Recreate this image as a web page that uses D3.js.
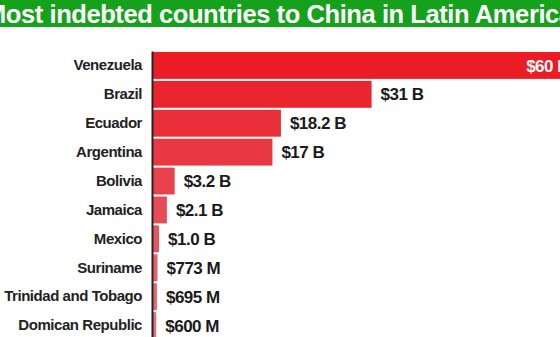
<!DOCTYPE html>
<html>
<head>
<meta charset="utf-8">
<script src="https://cdn.jsdelivr.net/npm/d3@7"></script>
<style>
  html, body { margin: 0; padding: 0; background: #fff; }
  svg { display: block; }
</style>
</head>
<body>
<svg id="chart" width="560" height="337"></svg>
<script>
const title = "Most indebted countries to China in Latin America";
const countries = ["Venezuela", "Brazil", "Ecuador", "Argentina", "Bolivia", "Jamaica", "Mexico", "Suriname", "Trinidad and Tobago", "Domican Republic"];
const debtBillions = [60, 31, 18.2, 17, 3.2, 2.1, 1.0, 0.773, 0.695, 0.6];
const valueLabels = ["$60 B", "$31 B", "$18.2 B", "$17 B", "$3.2 B", "$2.1 B", "$1.0 B", "$773 M", "$695 M", "$600 M"];

const W = 560, H = 337;
const svg = d3.select("#chart");
const font = "'Liberation Sans', Arial, Helvetica, sans-serif";

// Title banner
svg.append("rect").attr("x", 0).attr("y", 0).attr("width", W).attr("height", 27).attr("fill", "#16a11d");
svg.append("text")
  .attr("x", -15).attr("y", 22.5)
  .attr("font-family", font).attr("font-weight", "bold").attr("font-size", 25.5)
  .attr("fill", "#ffffff")
  .attr("textLength", 588).attr("lengthAdjust", "spacing")
  .text(title);

const x0 = 152;
const x = d3.scaleLinear().domain([0, 60]).range([x0, x0 + 425]);
const y = d3.scaleBand().domain(countries).range([51, 340]).paddingInner(0.07).paddingOuter(0.035);

const color = d3.scaleLinear().domain([0, countries.length - 1])
  .range(["#ec1c24", "#e5707d"]).interpolate(d3.interpolateRgb);

const data = countries.map((c, i) => ({ c, v: debtBillions[i], label: valueLabels[i], i }));

svg.append("g").selectAll("rect.bar").data(data).join("rect")
  .attr("class", "bar")
  .attr("x", x(0))
  .attr("y", d => y(d.c))
  .attr("width", d => x(d.v) - x(0))
  .attr("height", y.bandwidth())
  .attr("fill", d => color(d.i));

// Axis with category labels
const axis = svg.append("g")
  .attr("transform", `translate(${x0},0)`)
  .call(d3.axisLeft(y).tickSize(0).tickSizeOuter(0).tickPadding(10));
axis.select(".domain").attr("stroke", "#2a2222").attr("stroke-width", 2);
axis.selectAll("text")
  .attr("font-family", font).attr("font-weight", "bold").attr("font-size", 15)
  .attr("letter-spacing", "-0.45px")
  .attr("fill", "#222");

// Value labels
svg.append("g").selectAll("text.val").data(data).join("text")
  .attr("class", "val")
  .attr("font-family", font).attr("font-weight", "bold").attr("font-size", 17)
  .attr("letter-spacing", "-0.5px")
  .attr("dy", "0.36em")
  .attr("y", d => y(d.c) + y.bandwidth() / 2)
  .attr("x", d => d.i === 0 ? x(d.v) - 8 : Math.max(x(d.v) + 9, x0 + 12))
  .attr("text-anchor", d => d.i === 0 ? "end" : "start")
  .attr("fill", d => d.i === 0 ? "#ffffff" : "#1a1a1a")
  .text(d => d.label);
</script>
</body>
</html>
